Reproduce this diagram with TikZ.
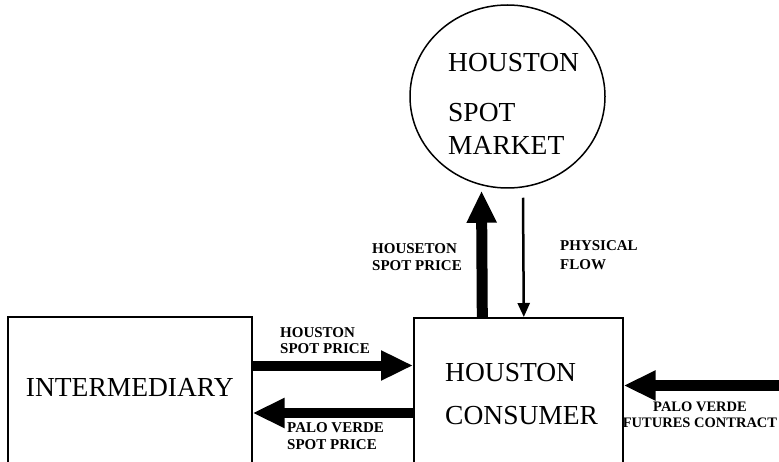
\documentclass[tikz,border=0pt]{standalone}
\usepackage{fontspec}
\setmainfont{Liberation Serif}
\usepackage{tikz}
\usetikzlibrary{arrows.meta, positioning, shapes.geometric}

\begin{document}
\begin{tikzpicture}[
    x=1pt, y=1pt,
    every node/.style={inner sep=0pt},
    box/.style={draw, line width=1.6pt, minimum width=#1, minimum height=190pt},
    market/.style={draw, ellipse, line width=1.5pt,
                   minimum width=195pt, minimum height=183pt},
    big/.style={font=\fontsize{27.5}{33}\selectfont, align=left},
    lbl/.style={font=\fontsize{15}{17}\selectfont\bfseries, align=left},
    bigarrow/.style={line width=#1, -{Triangle[length=32pt, width=28pt]}},
    flowarrow/.style={line width=2.5pt, -{Triangle[length=14pt, width=12pt]}}
]
    \useasboundingbox (0,0) rectangle (779,461);
    \clip (0,0) rectangle (779,461);

    \node[market] (spot) at (507.5,364.5) {};
    \node[big, anchor=north west] (spottxt) at (448,408)
        {HOUSTON\\[17pt]SPOT\\MARKET};
    \node[box=244pt, anchor=north west] (inter) at (7,145) {};
    \node[big, anchor=north] (intertxt) at ([yshift=-62pt]inter.north)
        {INTERMEDIARY};
    \node[box=209pt, anchor=north west] (cons) at (413,144) {};
    \node[big, anchor=north west, font=\fontsize{27.5}{43}\selectfont] (constxt)
        at ([xshift=32pt, yshift=-46pt]cons.north west) {HOUSTON\\CONSUMER};
    \coordinate (futend) at (782,75.5);

    \draw[bigarrow=11pt] ([xshift=-36pt]cons.north) -- ([xshift=-26pt, yshift=-2pt]spot.south);
    \draw[flowarrow] ([xshift=15.5pt, yshift=-9pt]spot.south) -- ([xshift=5.5pt]cons.north);
    \draw[bigarrow=10pt] ([yshift=-49.5pt]inter.north east) -- ([yshift=-48.5pt]cons.north west);
    \draw[bigarrow=10pt] ([yshift=-96pt]cons.north west) -- ([yshift=-97pt]inter.north east);
    \draw[bigarrow=11pt] (futend) -- (cons.east |- futend);

    \node[lbl, anchor=north west] (houseton) at (372,218) {HOUSETON\\SPOT PRICE};
    \node[lbl, anchor=north west, font=\fontsize{15}{19}\selectfont\bfseries] (physical)
        at (560,221) {PHYSICAL\\FLOW};
    \node[lbl, anchor=north west, font=\fontsize{15}{16}\selectfont\bfseries] (houston)
        at (280,134) {HOUSTON\\SPOT PRICE};
    \node[lbl, anchor=north west] (palo) at (287,39) {PALO VERDE\\SPOT PRICE};
    \node[lbl, anchor=north, align=center, font=\fontsize{14.5}{16}\selectfont\bfseries]
        (futures) at (700,59) {PALO VERDE\\FUTURES CONTRACT};
\end{tikzpicture}
\end{document}
